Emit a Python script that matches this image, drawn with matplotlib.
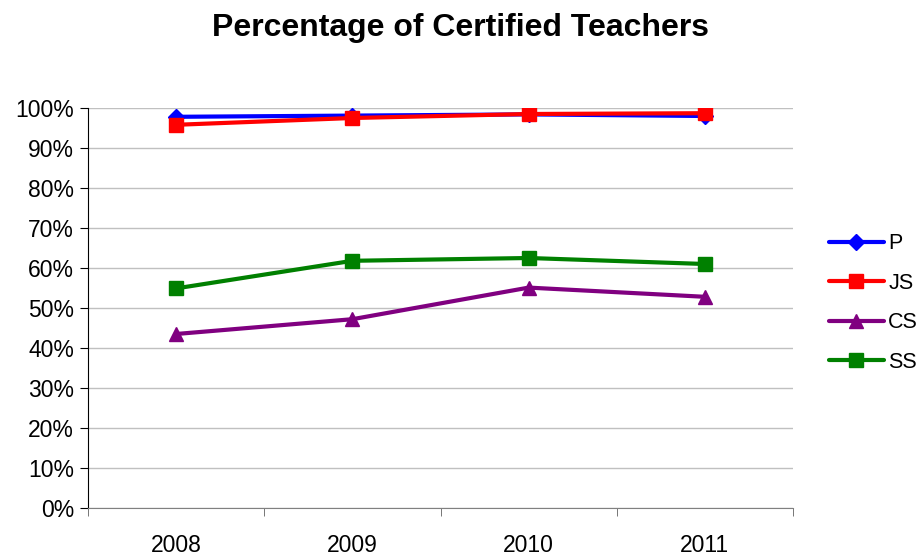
import matplotlib
matplotlib.use("Agg")
import matplotlib.pyplot as plt
from matplotlib.ticker import FuncFormatter, FixedLocator

years = ["2008", "2009", "2010", "2011"]
P = [97.8, 98.1, 98.4, 98.0]
JS = [95.8, 97.5, 98.5, 98.7]
CS = [43.5, 47.2, 55.1, 52.8]
SS = [54.9, 61.8, 62.5, 61.0]
yticks = list(range(0, 101, 10))

plt.rcParams['font.family'] = ['Liberation Sans', 'DejaVu Sans']

fig = plt.figure(figsize=(9.17, 5.56), dpi=100)
ax = fig.add_axes([88/917, 1-508/556, (793-88)/917, 400/556])

x = list(range(len(years)))
series = [("P", P, "#0000ff", "D", 8),
          ("JS", JS, "#ff0000", "s", 10),
          ("CS", CS, "#800080", "^", 10),
          ("SS", SS, "#008000", "s", 10)]
for name, vals, col, mk, ms in series:
    ax.plot(x, vals, color=col, lw=3, marker=mk, markersize=ms,
            markeredgecolor=col, markerfacecolor=col, label=name,
            solid_capstyle='round')

ax.set_xlim(-0.5, 3.5)
ax.set_ylim(0, 100)
ax.set_yticks(yticks)
ax.yaxis.set_major_formatter(FuncFormatter(lambda v, p: f"{int(v)}%"))
ax.set_xticks(x)
ax.set_xticklabels(years)
ax.xaxis.set_minor_locator(FixedLocator([-0.5, 0.5, 1.5, 2.5, 3.5]))
ax.tick_params(axis='x', which='major', length=0, labelsize=16.5, pad=19)
ax.tick_params(axis='x', which='minor', length=6, direction='out', color='#606060')
ax.tick_params(axis='y', which='major', length=6, direction='out', labelsize=16.5, pad=4)
ax.grid(axis='y', color='#c0c0c0', lw=1)
ax.set_axisbelow(True)
for s in ['top', 'right']:
    ax.spines[s].set_visible(False)
ax.spines['left'].set_color('#000000')
ax.spines['bottom'].set_color('#808080')

fig.text(460/917, 1-28/556, "Percentage of Certified Teachers", ha='center', va='center',
         fontsize=23, fontweight='bold')

leg = ax.legend(loc='center left', bbox_to_anchor=(829/917, 1-303/556), bbox_transform=fig.transFigure,
                frameon=False, fontsize=15.5, handlelength=2.55, handletextpad=0.2,
                labelspacing=0.86, borderaxespad=0, borderpad=0)

fig.savefig("out.png", dpi=100)
